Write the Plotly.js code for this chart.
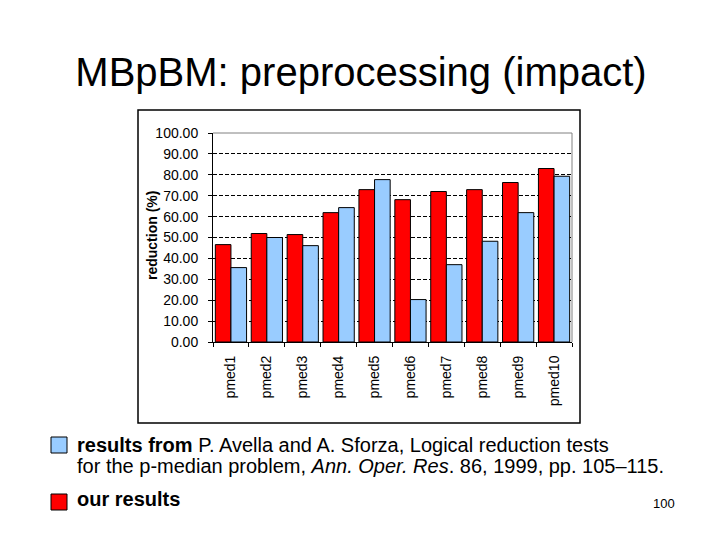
<!DOCTYPE html>
<html>
<head>
<meta charset="utf-8">
<script src="https://cdn.plot.ly/plotly-3.0.1.min.js"></script>
<style>
  html, body { margin: 0; padding: 0; background: #fff; }
  #chart { width: 720px; height: 540px; }
</style>
</head>
<body>
<div id="chart"></div>
<script>
// instances on the x axis
var instances = ['pmed1', 'pmed2', 'pmed3', 'pmed4', 'pmed5', 'pmed6', 'pmed7', 'pmed8', 'pmed9', 'pmed10'];
// reduction (%) - our results
var ourResults = [46.6, 51.9, 51.4, 61.9, 72.9, 68.1, 72.0, 72.9, 76.3, 83.0];
// reduction (%) - Avella & Sforza
var avellaResults = [35.6, 50.0, 46.1, 64.3, 77.7, 20.3, 37.0, 48.2, 61.9, 79.3];
var yTicks = [0, 10, 20, 30, 40, 50, 60, 70, 80, 90, 100];

var FONT = 'Arial, "Liberation Sans", sans-serif';

// plot area in pixels (page is 720x540)
var L = 213, R = 572, T = 133, B = 342;
function px(x) { return (x - L) / (R - L); }
function py(y) { return (B - y) / (B - T); }

var red = {
    x: instances,
    y: ourResults,
    type: 'bar',
    name: 'our results',
    marker: { color: '#ff0000', line: { color: '#000000', width: 1 } },
    hoverinfo: 'y'
};
var blue = {
    x: instances,
    y: avellaResults,
    type: 'bar',
    name: 'results from P. Avella and A. Sforza',
    marker: { color: '#99ccff', line: { color: '#000000', width: 1 } },
    hoverinfo: 'y'
};

var layout = {
    width: 720,
    height: 540,
    paper_bgcolor: '#ffffff',
    plot_bgcolor: '#ffffff',
    showlegend: false,
    barmode: 'group',
    bargap: 0.13,
    bargroupgap: 0,
    margin: { l: L, r: 720 - R, t: T, b: 540 - B, pad: 0 },
    font: { family: FONT, color: '#000000' },
    title: {
        text: 'MBpBM: preprocessing (impact)',
        font: { family: FONT, size: 40, color: '#000000' },
        x: 361 / 720,
        xref: 'container',
        xanchor: 'center',
        y: 1 - 72 / 540,
        yref: 'container',
        yanchor: 'middle'
    },
    xaxis: {
        type: 'category',
        tickangle: -90,
        tickfont: { family: FONT, size: 14, color: '#000000' },
        ticks: 'outside',
        tickson: 'boundaries',
        ticklen: 4,
        tickcolor: '#000000',
        ticklabelstandoff: 7,
        showline: true,
        linecolor: '#000000',
        linewidth: 1,
        showgrid: false,
        zeroline: false
    },
    yaxis: {
        range: [0, 100],
        tickvals: yTicks,
        ticktext: yTicks.map(function(v){ return v.toFixed(2); }),
        tickfont: { family: FONT, size: 14, color: '#000000' },
        ticks: 'outside',
        ticklen: 4,
        tickcolor: '#000000',
        ticklabelstandoff: 7,
        showline: true,
        linecolor: '#000000',
        linewidth: 1,
        showgrid: true,
        gridcolor: '#000000',
        griddash: '4px,2px',
        gridwidth: 1,
        zeroline: false
    },
    shapes: [
        // grey top and right border of the plot area
        { type: 'line', xref: 'paper', yref: 'paper', x0: 0, x1: 1, y0: 1, y1: 1,
          line: { color: '#808080', width: 1 } },
        { type: 'line', xref: 'paper', yref: 'paper', x0: 1, x1: 1, y0: 0, y1: 1,
          line: { color: '#808080', width: 1 } },
        // outer chart frame
        { type: 'rect', xref: 'paper', yref: 'paper',
          x0: px(138), x1: px(580), y0: py(423), y1: py(110),
          line: { color: '#000000', width: 1.5 } },
        // legend squares
        { type: 'rect', xref: 'paper', yref: 'paper',
          x0: px(51), x1: px(67), y0: py(453), y1: py(437),
          fillcolor: '#99ccff', line: { color: '#000000', width: 1 } },
        { type: 'rect', xref: 'paper', yref: 'paper',
          x0: px(51), x1: px(67), y0: py(510), y1: py(494),
          fillcolor: '#ff0000', line: { color: '#000000', width: 1 } }
    ],
    annotations: [
        // y axis title, placed by hand so it sits close to the tick labels
        { xref: 'paper', yref: 'paper', x: px(152), y: py(236), xanchor: 'center', yanchor: 'middle',
          showarrow: false, textangle: -90,
          text: '<b>reduction (%)</b>',
          font: { family: FONT, size: 14, color: '#000000' } },
        { xref: 'paper', yref: 'paper', x: px(75), y: py(445), xanchor: 'left', yanchor: 'middle',
          showarrow: false, align: 'left',
          text: '<b>results from</b> P. Avella and A. Sforza, Logical reduction tests',
          font: { family: FONT, size: 20, color: '#000000' } },
        { xref: 'paper', yref: 'paper', x: px(75), y: py(466), xanchor: 'left', yanchor: 'middle',
          showarrow: false, align: 'left',
          text: 'for the p-median problem, <i>Ann. Oper. Res</i>. 86, 1999, pp. 105–115.',
          font: { family: FONT, size: 20, color: '#000000' } },
        { xref: 'paper', yref: 'paper', x: px(75), y: py(499), xanchor: 'left', yanchor: 'middle',
          showarrow: false, align: 'left',
          text: '<b>our results</b>',
          font: { family: FONT, size: 20, color: '#000000' } },
        { xref: 'paper', yref: 'paper', x: px(677), y: py(503), xanchor: 'right', yanchor: 'middle',
          showarrow: false,
          text: '100',
          font: { family: FONT, size: 13, color: '#000000' } }
    ]
};

Plotly.newPlot('chart', [red, blue], layout, { displayModeBar: false, staticPlot: true });
</script>
</body>
</html>
